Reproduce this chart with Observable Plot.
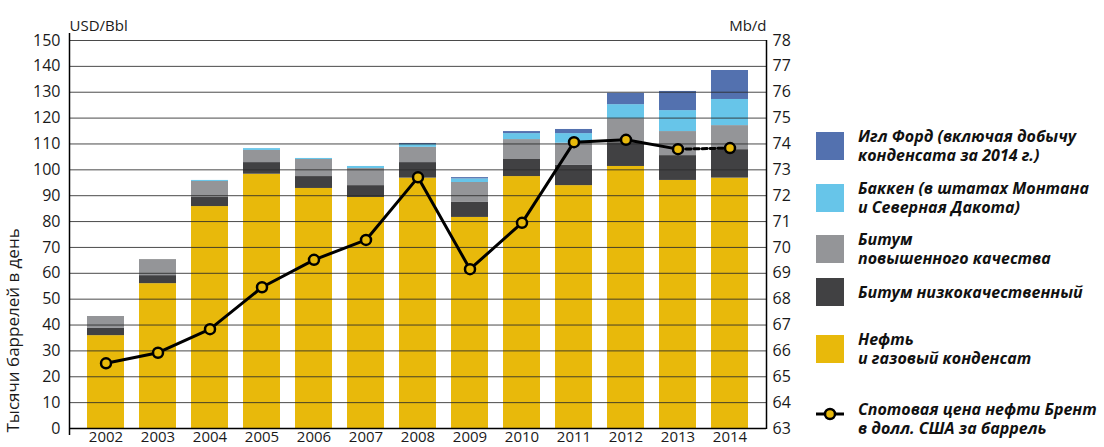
<!DOCTYPE html>
<html>
<head>
<meta charset="utf-8">
<script src="https://cdn.jsdelivr.net/npm/d3@7"></script>
<script src="https://cdn.jsdelivr.net/npm/@observablehq/plot@0.6"></script>
<style>
  html, body { margin: 0; padding: 0; background: #fff; }
  #wrap { position: relative; width: 1104px; height: 447px; font-family: "Open Sans", sans-serif; }
  #chart svg { display: block; }
  .leg { position: absolute; left: 816px; display: flex; align-items: center; }
  .sw { width: 28px; height: 28px; flex: none; }
  .lt { margin-left: 14px; font-style: italic; font-weight: 700; font-size: 16px; line-height: 19px; color: #111; white-space: nowrap; }
</style>
</head>
<body>
<div id="wrap">
  <div id="chart"></div>
  <div id="legend"></div>
</div>
<script>
const years = [2002, 2003, 2004, 2005, 2006, 2007, 2008, 2009, 2010, 2011, 2012, 2013, 2014];
const oil     = [35.9, 56.0, 85.8, 98.3, 92.8, 89.3, 96.8, 81.6, 97.4, 93.9, 101.3, 95.9, 96.8];
const bitLow  = [2.8, 3.1, 3.5, 4.5, 4.6, 4.6, 6.0, 5.8, 6.6, 7.8, 9.2, 9.6, 11.0];
const bitHigh = [4.6, 6.2, 6.2, 4.7, 6.6, 6.6, 5.9, 7.7, 7.7, 8.6, 9.2, 9.3, 9.3];
const bakken  = [0, 0, 0.4, 0.7, 0.4, 0.8, 1.1, 1.4, 2.3, 3.7, 5.5, 8.1, 10.1];
const eagle   = [0, 0, 0, 0, 0, 0, 0.4, 0.5, 0.8, 1.6, 4.4, 7.4, 11.2];
const brent   = [25.2, 29.3, 38.4, 54.6, 65.2, 72.9, 97.1, 61.6, 79.5, 110.7, 111.6, 108.0, 108.4];

const seriesNames = [
  "Нефть и газовый конденсат",
  "Битум низкокачественный",
  "Битум повышенного качества",
  "Баккен (в штатах Монтана и Северная Дакота)",
  "Игл Форд (включая добычу конденсата за 2014 г.)"
];
const seriesColors = ["#E8B90B", "#414143", "#949598", "#67C5E9", "#5371AF"];
const leftTicks = d3.range(0, 151, 10);
const rightBase = 63;

const seriesValues = [oil, bitLow, bitHigh, bakken, eagle];
const barRows = [];
seriesValues.forEach((vals, i) => {
  vals.forEach((v, j) => barRows.push({year: String(years[j]), series: seriesNames[i], value: v}));
});
const lineRows = years.map((y, i) => ({year: String(y), value: brent[i]}));

const mL = 69, mR = 338, mT = 40, mB = 19, W = 1104, H = 447;

const plot = Plot.plot({
  width: W, height: H,
  marginLeft: mL, marginRight: mR, marginTop: mT, marginBottom: mB,
  style: {fontFamily: "Open Sans", fontSize: "16px", color: "#1a1a1a", background: "#fff"},
  x: {type: "band", domain: years.map(String), paddingInner: 0.293, paddingOuter: 0.306, axis: null},
  y: {domain: [0, 150], axis: null},
  color: {domain: seriesNames, range: seriesColors},
  marks: [
    Plot.barY(barRows, {x: "year", y: "value", fill: "series", inset: 0}),
    Plot.ruleY(leftTicks.filter(d => d > 0), {stroke: "#2a2a2a", strokeWidth: 1, strokeOpacity: 0.85}),
    Plot.ruleY([0], {stroke: "#000", strokeWidth: 1.6}),
    Plot.axisY({anchor: "left", ticks: leftTicks, tickSize: 0, tickPadding: 9, label: null, fontSize: 16}),
    Plot.axisY({anchor: "right", ticks: leftTicks, tickSize: 0, tickPadding: 6, label: null, fontSize: 16,
      tickFormat: d => String(rightBase + d / 10)}),
    Plot.axisX({tickSize: 0, tickPadding: 3, label: null, fontSize: 15}),
    Plot.line(lineRows.slice(0, 12), {x: "year", y: "value", stroke: "#000", strokeWidth: 3}),
    Plot.line(lineRows.slice(11), {x: "year", y: "value", stroke: "#000", strokeWidth: 3, strokeDasharray: "5,3"}),
    Plot.dot(lineRows, {x: "year", y: "value", r: 5, fill: "#E8B90B", stroke: "#000", strokeWidth: 2.5}),
    Plot.text(["USD/Bbl"], {frameAnchor: "top-left", textAnchor: "start", dy: -20, fontSize: 15, fill: "#1a1a1a"}),
    Plot.text(["Mb/d"], {frameAnchor: "top-right", textAnchor: "end", dy: -20, fontSize: 15, fill: "#1a1a1a"}),
    Plot.text(["Тысячи баррелей в день"], {frameAnchor: "bottom-left", textAnchor: "start", rotate: -90, dx: -51, dy: 4, fontSize: 17, fill: "#1a1a1a"})
  ]
});

// axis spines
const svg = d3.select(plot);
svg.append("line").attr("x1", mL + 0.5).attr("x2", mL + 0.5).attr("y1", mT - 7).attr("y2", H - mB + 7)
  .attr("stroke", "#000").attr("stroke-width", 1.5);
svg.append("line").attr("x1", W - mR + 0.5).attr("x2", W - mR + 0.5).attr("y1", mT).attr("y2", H - mB + 1)
  .attr("stroke", "#000").attr("stroke-width", 1.5);
document.getElementById("chart").appendChild(plot);

// legend
const legendItems = [
  {i: 4, top: 127, html: "Игл Форд (включая добычу<br>конденсата за 2014 г.)"},
  {i: 3, top: 179, html: "Баккен (в штатах Монтана<br>и Северная Дакота)"},
  {i: 2, top: 230, html: "Битум<br>повышенного качества"},
  {i: 1, top: 278, html: "Битум низкокачественный"},
  {i: 0, top: 330, html: "Нефть<br>и газовый конденсат"}
];
const legend = document.getElementById("legend");
legendItems.forEach(it => {
  const d = document.createElement("div");
  d.className = "leg";
  d.style.top = it.top + "px";
  d.innerHTML = `<div class="sw" style="background:${seriesColors[it.i]}"></div><div class="lt">${it.html}</div>`;
  legend.appendChild(d);
});
const ld = document.createElement("div");
ld.className = "leg";
ld.style.top = "402px";
ld.style.alignItems = "flex-start";
ld.innerHTML = `<svg width="28" height="24" style="flex:none"><line x1="0" x2="28" y1="12" y2="12" stroke="#000" stroke-width="3"/><circle cx="14" cy="12" r="5" fill="#E8B90B" stroke="#000" stroke-width="2.5"/></svg><div class="lt" style="margin-top:-2px">Спотовая цена нефти Брент<br>в долл. США за баррель</div>`;
legend.appendChild(ld);
</script>
</body>
</html>
